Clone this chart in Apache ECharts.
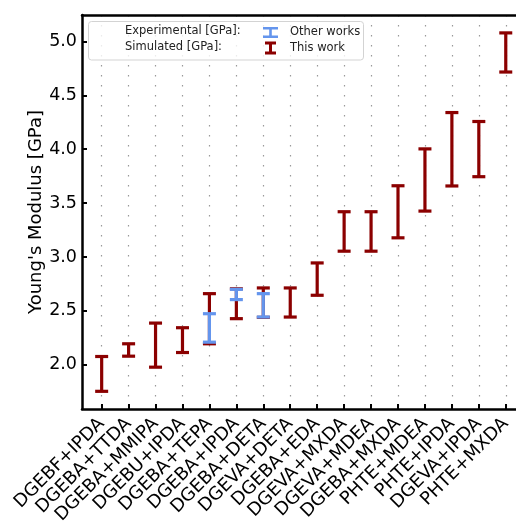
<!DOCTYPE html>
<html>
<head>
<meta charset="UTF-8">
<title>Young's Modulus</title>
<script src="https://cdn.jsdelivr.net/npm/echarts@6/dist/echarts.min.js"></script>
<style>
  body { margin: 0; background: #fff; }
  #chart { width: 516px; height: 529px; }
</style>
</head>
<body>
<div id="chart"></div>
<script>
// data
var categories = ['DGEBF+IPDA', 'DGEBA+TTDA', 'DGEBA+MMIPA', 'DGEBU+IPDA', 'DGEBA+TEPA',
  'DGEBA+IPDA', 'DGEBA+DETA', 'DGEVA+DETA', 'DGEBA+EDA', 'DGEVA+MXDA', 'DGEVA+MDEA',
  'DGEBA+MXDA', 'PHTE+MDEA', 'PHTE+IPDA', 'DGEVA+IPDA', 'PHTE+MXDA'];
// simulated (this work) range
var simLow  = [1.754, 2.080, 1.978, 2.114, 2.195, 2.428, 2.440, 2.443, 2.645, 3.054, 3.054, 3.178, 3.426, 3.659, 3.745, 4.716];
var simHigh = [2.077, 2.195, 2.387, 2.344, 2.660, 2.705, 2.713, 2.713, 2.945, 3.420, 3.420, 3.661, 4.003, 4.340, 4.257, 5.079];
// experimental (other works) range
var expLow  = [null, null, null, null, 2.210, 2.605, 2.443, null, null, null, null, null, null, null, null, null];
var expHigh = [null, null, null, null, 2.474, 2.700, 2.660, null, null, null, null, null, null, null, null, null];
var yTicks = [2.0, 2.5, 3.0, 3.5, 4.0, 4.5, 5.0];

var RED = '#8b0000';
var BLUE = '#6495ed';
var FONT = 'DejaVu Sans';

var xTicks = categories.map(function(c, i) { return i; });

function toBars(lo, hi) {
  var out = [];
  for (var i = 0; i < lo.length; i++) {
    if (lo[i] != null && hi[i] != null)
      out.push([i, lo[i], hi[i]]);
  }
  return out;
}

// draws one error bar: vertical line plus two caps
function errorBar(color) {
  return function(params, api) {
    var x = api.value(0);
    var top = api.coord([x, api.value(2)]);
    var bot = api.coord([x, api.value(1)]);
    var w = 6.5;
    var st = { stroke: color, lineWidth: 3.2, fill: null };
    return {
      type: 'group',
      children: [
        { type: 'line', shape: { x1: top[0], y1: top[1], x2: bot[0], y2: bot[1] }, style: st },
        { type: 'line', shape: { x1: top[0] - w, y1: top[1], x2: top[0] + w, y2: top[1] }, style: st },
        { type: 'line', shape: { x1: bot[0] - w, y1: bot[1], x2: bot[0] + w, y2: bot[1] }, style: st }
      ]
    };
  };
}

// legend icons (I shaped error bar glyphs)
var ICON_BLUE = 'path://M0,0L15,0L15,2.6L8.8,2.6L8.8,8.4L15,8.4L15,11L0,11L0,8.4L6.2,8.4L6.2,2.6L0,2.6Z';
var ICON_RED = 'path://M0,0L11,0L11,3L7,3L7,10L11,10L11,13L0,13L0,10L4,10L4,3L0,3Z';

var myChart = echarts.init(document.getElementById('chart'));
var option = {
  animation: false,
  textStyle: { fontFamily: FONT },
  grid: { left: 82, top: 15, right: 0, bottom: 120, containLabel: false },
  xAxis: [{
    type: 'value',
    position: 'bottom',
    min: -0.73,
    max: 15.38,
    axisLine: { onZero: false, lineStyle: { color: '#000', width: 2.5 } },
    axisTick: { inside: true, length: 5, customValues: xTicks, lineStyle: { color: '#000', width: 2 } },
    axisLabel: {
      customValues: xTicks,
      rotate: 45,
      margin: 12,
      fontSize: 18,
      color: '#000',
      fontFamily: FONT,
      formatter: function(v) { return categories[Math.round(v)] || ''; }
    },
    splitLine: { show: true, lineStyle: { color: '#999', width: 1.2, type: [1.5, 8.5] } }
  }, {
    type: 'value',
    position: 'top',
    min: -0.73,
    max: 15.38,
    axisLine: { show: true, onZero: false, lineStyle: { color: '#000', width: 2.5 } },
    axisTick: { show: false },
    axisLabel: { show: false },
    splitLine: { show: false }
  }],
  yAxis: {
    type: 'value',
    min: 1.59,
    max: 5.245,
    name: "Young's Modulus [GPa]",
    nameLocation: 'middle',
    nameGap: 37,
    nameMoveOverlap: false,
    nameTextStyle: { fontSize: 18, color: '#000', fontFamily: FONT },
    axisLine: { show: true, onZero: false, lineStyle: { color: '#000', width: 2.5 } },
    axisTick: { show: true, inside: true, length: 5, customValues: yTicks, lineStyle: { color: '#000', width: 2 } },
    axisLabel: {
      customValues: yTicks,
      margin: 5,
      fontSize: 17.5,
      color: '#000',
      fontFamily: FONT,
      formatter: function(v) { return v.toFixed(1); }
    },
    splitLine: { show: false }
  },
  legend: {
    data: [{ name: 'Other works', icon: ICON_BLUE }, { name: 'This work', icon: ICON_RED }],
    orient: 'vertical',
    left: 258,
    top: 21.5,
    itemWidth: 15,
    itemHeight: 13,
    itemGap: 3,
    textStyle: { fontSize: 11.5, color: '#222', fontFamily: FONT, padding: [0, 0, 0, 7] },
    z: 5
  },
  graphic: [
    {
      type: 'rect', z: 4,
      shape: { x: 88.5, y: 21.5, width: 275, height: 38.5, r: 3 },
      style: { fill: 'rgba(255,255,255,0.8)', stroke: '#d3d3d3', lineWidth: 1 }
    },
    {
      type: 'text', z: 5, x: 125, y: 31,
      style: { text: 'Experimental [GPa]:', fontSize: 11.5, fill: '#222', fontFamily: FONT, verticalAlign: 'middle' }
    },
    {
      type: 'text', z: 5, x: 125, y: 47,
      style: { text: 'Simulated [GPa]:', fontSize: 11.5, fill: '#222', fontFamily: FONT, verticalAlign: 'middle' }
    }
  ],
  series: [{
    name: 'This work',
    type: 'custom',
    xAxisIndex: 0,
    renderItem: errorBar(RED),
    itemStyle: { color: RED },
    encode: { x: 0, y: [1, 2] },
    data: toBars(simLow, simHigh),
    z: 2
  }, {
    name: 'Other works',
    type: 'custom',
    xAxisIndex: 0,
    renderItem: errorBar(BLUE),
    itemStyle: { color: BLUE },
    encode: { x: 0, y: [1, 2] },
    data: toBars(expLow, expHigh),
    z: 3
  }]
};
myChart.setOption(option);
</script>
</body>
</html>
